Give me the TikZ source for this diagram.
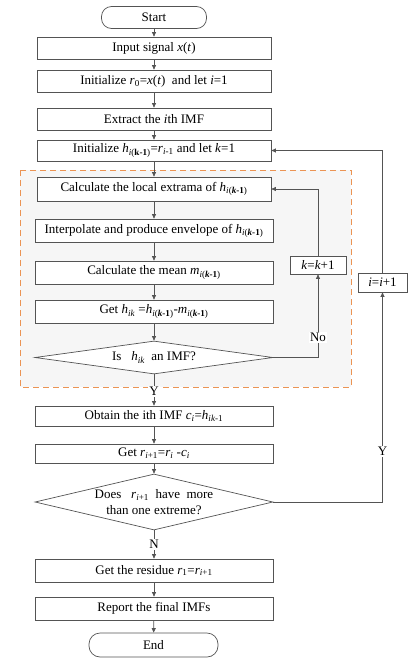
\documentclass[tikz,border=0pt]{standalone}
\usepackage{fontspec}
\setmainfont{Liberation Serif}
\usetikzlibrary{shapes,arrows.meta,positioning}
\definecolor{myorange}{rgb}{0.92, 0.58, 0.33}
\definecolor{mygray}{rgb}{0.33, 0.33, 0.33}
\definecolor{myback}{rgb}{0.965, 0.965, 0.965}
\newcommand{\sub}[1]{\textsubscript{#1}}

\begin{document}
\begin{tikzpicture}[x=1pt,y=-1pt,font=\fontsize{13}{15.5}\selectfont,
    line/.style={draw=mygray, line width=0.7pt},
    arr/.style={line, -{Triangle[length=4.5pt,width=4pt]}},
    box/.style={line, fill=white, minimum width=238pt, minimum height=23pt, inner sep=1pt},
    term/.style={line, fill=white, rounded corners=10pt, minimum height=22pt, inner sep=1pt},
    dec/.style={line, diamond, fill=white, inner sep=0pt},
    lab/.style={fill=white, inner sep=1pt}]
    \useasboundingbox (0,0) rectangle (411,662);
    % shaded loop region
    \fill[myback] (20,170) rectangle (351,387);
    \draw[myorange, line width=1pt, dash pattern=on 6pt off 4pt] (20,170) rectangle (351,387);

    \node[term, minimum width=105pt] (start) at (154,17.5) {Start};
    \node[box, minimum width=234pt, minimum height=22pt] (input) at (154,48) {Input signal \textit{x}(\textit{t})};
    \node[box, minimum width=234pt, minimum height=22pt] (initr) at (154,81) {Initialize \textit{r}\sub{0}=\textit{x}(\textit{t})\ \ and let \textit{i}=1};
    \node[box, minimum width=234pt, minimum height=22pt] (extract) at (154,119) {Extract the \textit{i}th IMF};
    \node[box, minimum width=234pt, minimum height=21pt] (inith) at (154,150.5) {Initialize \textit{h}\sub{\textit{i}(\textbf{k-1})}=\textit{r}\sub{\textit{i}-1} and let \textit{k}=1};

    \node[box, minimum width=234pt, minimum height=24pt] (extrema) at (154,189) {Calculate the local extrama of \textit{h}\sub{\textit{i}(\textbf{\textit{k}-1})}};
    \node[box] (interp) at (154,230.5) {Interpolate and produce envelope of \textit{h}\sub{\textit{i}(\textbf{\textit{k}-1})}};
    \node[box] (mean) at (154,272.5) {Calculate the mean \textit{m}\sub{\textit{i}(\textbf{\textit{k}-1})}};
    \node[box] (gethik) at (154,311.5) {Get \textit{h}\sub{\textit{ik}} =\textit{h}\sub{\textit{i}(\textbf{\textit{k}-1})}-\textit{m}\sub{\textit{i}(\textbf{\textit{k}-1})}};
    \node[dec, minimum width=238pt, minimum height=33pt] (isimf) at (154,357.5) {};
    \node at (isimf) {Is\ \ \ \textit{h}\sub{\textit{ik}}\ \ an IMF?};
    \node[line, fill=white, minimum width=56pt, minimum height=18pt, inner sep=1pt] (kinc) at (318,265) {\textit{k}=\textit{k}+1};

    \node[box, minimum height=20pt] (obtain) at (154,416) {Obtain the ith IMF \textit{c}\sub{\textit{i}}=\textit{h}\sub{\textit{ik}-1}};
    \node[box, minimum height=19pt] (getr) at (154,453.5) {Get \textit{r}\sub{\textit{i}+1}=\textit{r}\sub{\textit{i}} -\textit{c}\sub{\textit{i}}};
    \node[dec, minimum width=238pt, minimum height=56pt] (more) at (154,502) {};
    \node[align=center] at (more) {Does\ \ \ \textit{r}\sub{\textit{i}+1}\ \ have\ \ more\\than one extreme?};
    \node[box] (residue) at (154,570.5) {Get the residue \textit{r}\sub{1}=\textit{r}\sub{\textit{i}+1}};
    \node[box] (report) at (154,608.5) {Report the final IMFs};
    \node[term, minimum width=129pt, minimum height=24pt, rounded corners=11pt] (end) at (153.5,645) {End};
    \node[line, fill=white, minimum width=49pt, minimum height=19pt, inner sep=1pt] (iinc) at (382.5,282.5) {\textit{i}=\textit{i}+1};

    % main flow
    \draw[arr] (start) -- (input);
    \draw[arr] (input) -- (initr);
    \draw[arr] (initr) -- (extract);
    \draw[arr] (extract) -- (inith);
    \draw[arr] (inith) -- (extrema);
    \draw[arr] (extrema) -- (interp);
    \draw[arr] (interp) -- (mean);
    \draw[arr] (mean) -- (gethik);
    \draw[arr] (gethik) -- (isimf);
    \draw[arr] (isimf) -- node[lab, pos=0.55] {Y} (obtain);
    \draw[arr] (obtain) -- (getr);
    \draw[arr] (getr) -- (more);
    \draw[arr] (more) -- node[lab] {N} (residue);
    \draw[arr] (residue) -- (report);
    \draw[arr] (report) -- (end);

    % inner loop
    \draw[arr] (isimf.east) -| node[lab, pos=0.62] {No} (kinc.south);
    \draw[arr] (kinc.north) |- (extrema.east);
    % outer loop
    \draw[arr] (more.east) -| node[lab, pos=0.62] {Y} (iinc.south);
    \draw[arr] (iinc.north) |- (inith.east);
\end{tikzpicture}
\end{document}
